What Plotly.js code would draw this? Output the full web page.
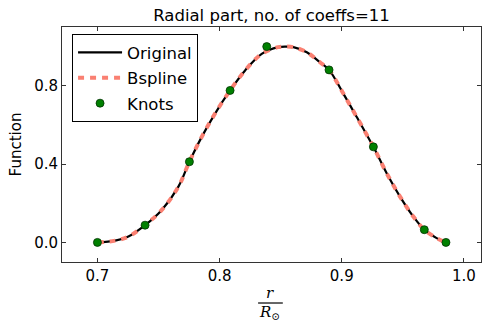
<!DOCTYPE html>
<html>
<head>
<meta charset="utf-8">
<script src="https://cdn.plot.ly/plotly-3.0.1.min.js"></script>
<style>html,body{margin:0;padding:0;background:#fff;}#chart{width:482px;height:324px;}</style>
</head>
<body>
<div id="chart"></div>
<script>
// Curve (r/R_sun, function value)
const curveX = [0.700, 0.7145, 0.7254, 0.739, 0.7527, 0.7663, 0.7753, 0.7854, 0.7963, 0.8086, 0.8209, 0.8345, 0.848, 0.8545, 0.8604, 0.8714, 0.8822, 0.8896, 0.9013, 0.9123, 0.9259, 0.9368, 0.9477, 0.9586, 0.9676, 0.9777, 0.9853];
const originalY = [0.000, 0.009, 0.030, 0.088, 0.166, 0.285, 0.412, 0.539, 0.658, 0.776, 0.878, 0.963, 0.997, 1.000, 0.997, 0.971, 0.920, 0.881, 0.760, 0.640, 0.488, 0.353, 0.234, 0.132, 0.065, 0.022, 0.000];
const bsplineY = [0.000, 0.009, 0.030, 0.088, 0.166, 0.285, 0.412, 0.539, 0.658, 0.776, 0.878, 0.963, 0.997, 1.000, 0.997, 0.971, 0.920, 0.881, 0.760, 0.640, 0.488, 0.353, 0.234, 0.132, 0.065, 0.022, 0.000];
const knotX = [0.700, 0.739, 0.7753, 0.8086, 0.8386, 0.8896, 0.9259, 0.9676, 0.9853];
const knotY = [0.000, 0.088, 0.412, 0.776, 1.000, 0.881, 0.488, 0.065, 0.000];
const seriesNames = ["Original", "Bspline", "Knots"];
const xTicks = [0.7, 0.8, 0.9, 1.0];
const yTicks = [0.0, 0.4, 0.8];

const FONT = "DejaVu Sans, sans-serif";
const traces = [
  {x: curveX, y: originalY, mode: "lines", name: seriesNames[0], legendgroup: "a",
   line: {color: "#000000", width: 2.2, shape: "spline"}},
  {x: curveX, y: bsplineY, mode: "lines", name: seriesNames[1], legendgroup: "b",
   line: {color: "#FA8072", width: 4, dash: "6px,6px", shape: "spline"}},
  {x: knotX, y: knotY, mode: "markers", name: seriesNames[2], legendgroup: "c",
   marker: {color: "#008000", size: 8, line: {color: "#003300", width: 0.8}}}
];
const axisCommon = {
  showgrid: false, zeroline: false, showline: true, mirror: "ticks",
  linecolor: "#333", linewidth: 1, ticks: "inside", ticklen: 4, tickcolor: "#333",
  tickfont: {family: FONT, size: 15, color: "#000"}, tickformat: ".1f"
};
const layout = {
  width: 482, height: 324,
  margin: {l: 62, r: 1, t: 27, b: 62},
  paper_bgcolor: "#fff", plot_bgcolor: "#fff",
  font: {family: FONT, size: 15, color: "#000"},
  title: {text: "Radial part, no. of coeffs=11", x: 0.5, xref: "paper", xanchor: "center",
          y: 1 - 15/324, yref: "container", yanchor: "middle", font: {family: FONT, size: 16.5, color: "#000"}},
  xaxis: Object.assign({}, axisCommon, {range: [0.671, 1.014], tickvals: xTicks}),
  yaxis: Object.assign({}, axisCommon, {range: [-0.1, 1.1], tickvals: yTicks,
          title: {text: "Function", standoff: 8, font: {family: FONT, size: 15, color: "#000"}}}),
  showlegend: true,
  legend: {x: 0.024, y: 0.97, xanchor: "left", yanchor: "top", bgcolor: "#fff",
           bordercolor: "#000", borderwidth: 1, traceorder: "grouped", tracegroupgap: 1,
           itemwidth: 44,
           font: {family: FONT, size: 16.5, color: "#000"}},
  annotations: [
    {text: "<i>r</i>", xref: "paper", yref: "paper", x: 0.496, y: -0.132, showarrow: false,
     xanchor: "center", yanchor: "middle", font: {family: "DejaVu Serif, serif", size: 15, color: "#000"}},
    {text: "<i>R</i><sub>⊙</sub>", xref: "paper", yref: "paper", x: 0.496, y: -0.215, showarrow: false,
     xanchor: "center", yanchor: "middle", font: {family: "DejaVu Serif, serif", size: 15, color: "#000"}}
  ],
  shapes: [
    {type: "line", xref: "paper", yref: "paper", x0: 0.468, x1: 0.527, y0: -0.1745, y1: -0.1745,
     line: {color: "#000", width: 1.2}}
  ]
};
Plotly.newPlot("chart", traces, layout, {staticPlot: true, displayModeBar: false});
</script>
</body>
</html>
